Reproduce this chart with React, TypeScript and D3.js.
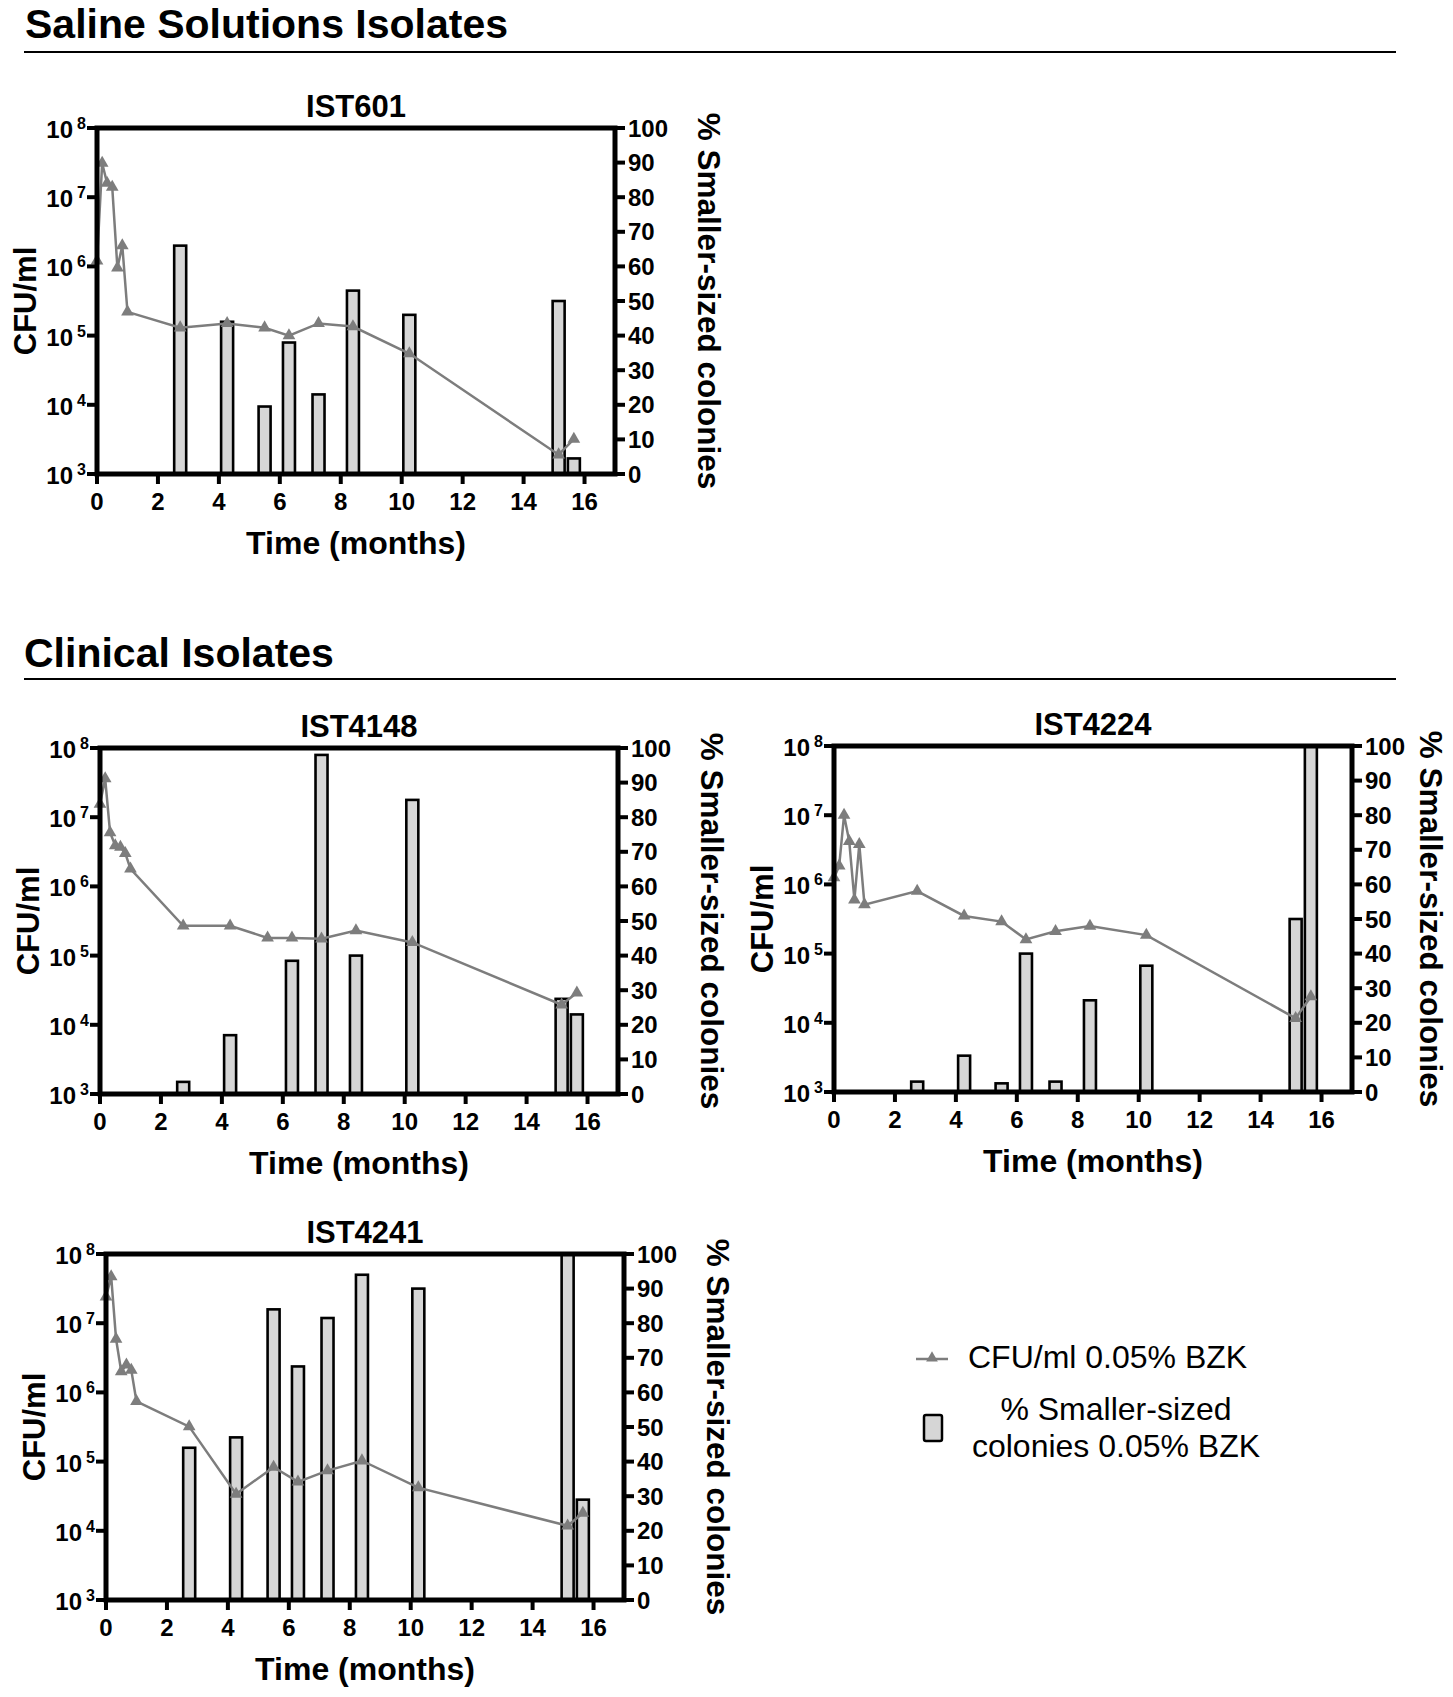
import React from 'react';
import { scaleLinear, scaleLog, line, symbol, symbolTriangle } from 'd3';

// sampling times (months) for the CFU/ml series
const months = [0, 0.17, 0.33, 0.5, 0.67, 0.83, 1.0, 2.73, 4.27, 5.5, 6.3, 7.27, 8.4, 10.25, 15.15, 15.65];
// times of the % smaller-sized colonies bars
const barMonths = [2.73, 4.27, 5.5, 6.3, 7.27, 8.4, 10.25, 15.15, 15.65];

const cfuIST601 = [1.2e6, 3.1e7, 1.6e7, 1.4e7, 9.5e5, 2e6, 2.2e5, 1.3e5, 1.5e5, 1.3e5, 1e5, 1.5e5, 1.35e5, 5.5e4, 1.9e3, 3.2e3];
const pctIST601 = [66, 44, 19.5, 38, 23, 53, 46, 50, 4.5];

const cfuIST4148 = [1.55e7, 3.6e7, 6e6, 3.9e6, 3.7e6, 3e6, 1.8e6, 2.7e5, 2.7e5, 1.8e5, 1.8e5, 1.75e5, 2.3e5, 1.55e5, 1.95e4, 2.9e4];
const pctIST4148 = [3.5, 17, 0, 38.5, 98, 40, 85, 27.5, 23];

const cfuIST4224 = [1.25e6, 1.85e6, 1e7, 4.2e6, 6e5, 3.8e6, 5.1e5, 8e5, 3.5e5, 2.9e5, 1.6e5, 2.1e5, 2.5e5, 1.85e5, 1.16e4, 2.4e4];
const pctIST4224 = [3, 10.5, 2.5, 40, 3, 26.5, 36.5, 50, 100];

const cfuIST4241 = [2.4e7, 4.7e7, 5.9e6, 2e6, 2.5e6, 2.1e6, 7.4e5, 3.2e5, 3.4e4, 8.3e4, 5.1e4, 7.4e4, 1.03e5, 4.2e4, 1.18e4, 1.8e4];
const pctIST4241 = [44, 47, 84, 67.5, 81.5, 94, 90, 100, 29];

const xTicks = [0, 2, 4, 6, 8, 10, 12, 14, 16];
const leftTicks = [3, 4, 5, 6, 7, 8];
const rightTicks = [0, 10, 20, 30, 40, 50, 60, 70, 80, 90, 100];

const FONT = '"Liberation Sans", Arial, Helvetica, sans-serif';
const LINE_GREY = '#7d7d7d';
const BAR_FILL = '#d6d6d6';
const W = 518;
const H = 346;

type PanelProps = { title: string; x0: number; y0: number; cfu: number[]; pct: number[]; rightGap?: number };

function Panel({ title, x0, y0, cfu, pct, rightGap = 94 }: PanelProps) {
    const x = scaleLinear().domain([0, 17]).range([x0, x0 + W]);
    const yL = scaleLog().domain([1e3, 1e8]).range([y0 + H, y0]);
    const yR = scaleLinear().domain([0, 100]).range([y0 + H, y0]);
    const left = x0;
    const right = x0 + W;
    const bottom = y0 + H;
    const cx = (left + right) / 2;
    const cy = (y0 + bottom) / 2;

    const pts = months.map((m, i) => [x(m), yL(cfu[i])] as [number, number]);
    const path = line()(pts) || '';
    const tri = symbol(symbolTriangle, 70)() || '';
    const barW = 12;

    return (
        <g>
            {barMonths.map((m, i) =>
                pct[i] > 0 ? (
                    <rect
                        key={'b' + i}
                        x={x(m) - barW / 2}
                        y={yR(pct[i])}
                        width={barW}
                        height={bottom - yR(pct[i])}
                        fill={BAR_FILL}
                        stroke="#000"
                        strokeWidth={2.6}
                    />
                ) : null
            )}
            <path d={path} fill="none" stroke={LINE_GREY} strokeWidth={2.5} />
            {pts.map((p, i) => (
                <path key={'t' + i} d={tri} transform={`translate(${p[0]},${p[1]})`} fill={LINE_GREY} />
            ))}

            {/* frame */}
            <rect x={left} y={y0} width={W} height={H} fill="none" stroke="#000" strokeWidth={5} />

            {/* left axis: log ticks */}
            {leftTicks.map((e) => {
                const ty = yL(Math.pow(10, e));
                return (
                    <g key={'l' + e}>
                        <line x1={left - 10} x2={left} y1={ty} y2={ty} stroke="#000" strokeWidth={4} />
                        <text x={left - 24} y={ty + 10} textAnchor="end" fontSize={24} fontWeight="bold" fontFamily={FONT}>
                            10
                        </text>
                        <text x={left - 20} y={ty + 1} textAnchor="start" fontSize={16} fontWeight="bold" fontFamily={FONT}>
                            {e}
                        </text>
                    </g>
                );
            })}

            {/* right axis */}
            {rightTicks.map((v) => {
                const ty = yR(v);
                return (
                    <g key={'r' + v}>
                        <line x1={right} x2={right + 10} y1={ty} y2={ty} stroke="#000" strokeWidth={4} />
                        <text x={right + 13} y={ty + 8.5} fontSize={24} fontWeight="bold" fontFamily={FONT}>
                            {v}
                        </text>
                    </g>
                );
            })}

            {/* bottom axis */}
            {xTicks.map((v) => (
                <g key={'x' + v}>
                    <line x1={x(v)} x2={x(v)} y1={bottom} y2={bottom + 10} stroke="#000" strokeWidth={4} />
                    <text x={x(v)} y={bottom + 36} textAnchor="middle" fontSize={24} fontWeight="bold" fontFamily={FONT}>
                        {v}
                    </text>
                </g>
            ))}

            <text x={cx} y={y0 - 11} textAnchor="middle" fontSize={31} fontWeight="bold" fontFamily={FONT}>
                {title}
            </text>
            <text x={cx} y={bottom + 80} textAnchor="middle" fontSize={32} fontWeight="bold" fontFamily={FONT}>
                Time (months)
            </text>
            <text
                transform={`translate(${left - 72},${cy}) rotate(-90)`}
                textAnchor="middle"
                dominantBaseline="central"
                fontSize={31}
                fontWeight="bold"
                fontFamily={FONT}
            >
                CFU/ml
            </text>
            <text
                transform={`translate(${right + rightGap},${cy}) rotate(90)`}
                textAnchor="middle"
                dominantBaseline="central"
                fontSize={31.5}
                fontWeight="bold"
                fontFamily={FONT}
            >
                % Smaller-sized colonies
            </text>
        </g>
    );
}

export default function App() {
    const tri = symbol(symbolTriangle, 60)() || '';
    return (
        <svg
            width={1453}
            height={1697}
            viewBox="0 0 1453 1697"
            style={{ position: 'absolute', left: 0, top: 0, background: '#fff' }}
        >
            <rect x={0} y={0} width={1453} height={1697} fill="#fff" />

            <text x={25} y={38} fontSize={41} fontWeight="bold" fontFamily={FONT}>
                Saline Solutions Isolates
            </text>
            <line x1={24} x2={1396} y1={52} y2={52} stroke="#000" strokeWidth={2} />

            <text x={24} y={667} fontSize={41} fontWeight="bold" fontFamily={FONT}>
                Clinical Isolates
            </text>
            <line x1={24} x2={1396} y1={679} y2={679} stroke="#000" strokeWidth={2} />

            <Panel title="IST601" x0={97} y0={128} cfu={cfuIST601} pct={pctIST601} />
            <Panel title="IST4148" x0={100} y0={748} cfu={cfuIST4148} pct={pctIST4148} />
            <Panel title="IST4224" x0={834} y0={746} cfu={cfuIST4224} pct={pctIST4224} rightGap={79} />
            <Panel title="IST4241" x0={106} y0={1254} cfu={cfuIST4241} pct={pctIST4241} />

            {/* legend */}
            <line x1={916} x2={948} y1={1359} y2={1359} stroke={LINE_GREY} strokeWidth={2.5} />
            <path d={tri} transform="translate(932,1358)" fill={LINE_GREY} />
            <text x={968} y={1368} fontSize={32} fontFamily={FONT}>
                CFU/ml 0.05% BZK
            </text>
            <rect x={924} y={1415} width={18} height={26} rx={2} fill={BAR_FILL} stroke="#000" strokeWidth={2.5} />
            <text x={1116} y={1420} textAnchor="middle" fontSize={32} fontFamily={FONT}>
                % Smaller-sized
            </text>
            <text x={1116} y={1457} textAnchor="middle" fontSize={32} fontFamily={FONT}>
                colonies 0.05% BZK
            </text>
        </svg>
    );
}
